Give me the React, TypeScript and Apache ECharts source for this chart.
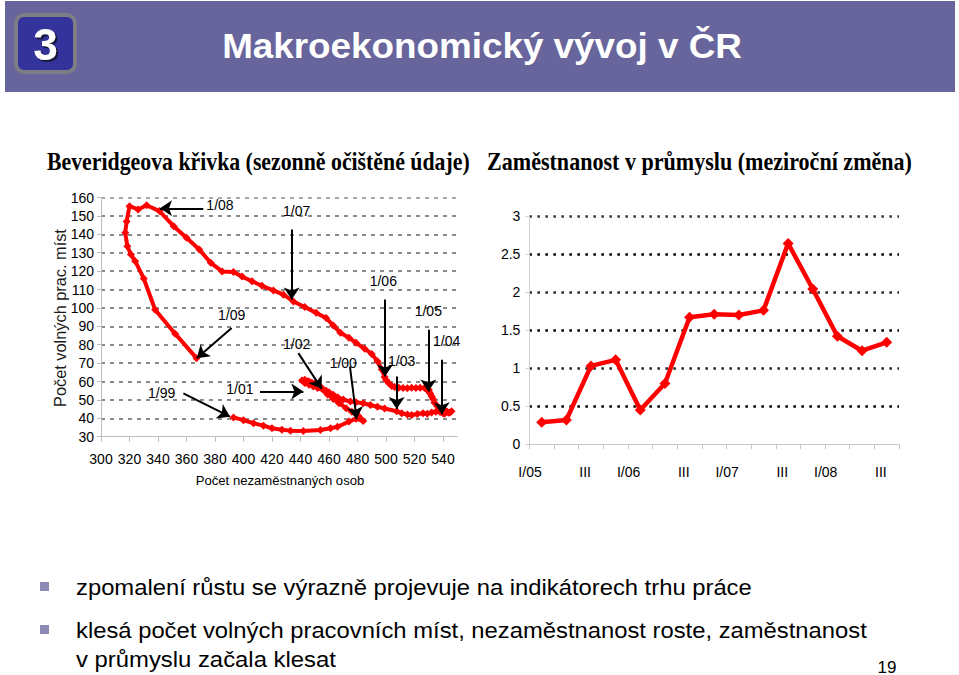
import React, { useEffect, useRef } from 'react';
import * as echarts from 'echarts';

// ---------- Beveridge curve (monthly, 1/99 – 1/09), thousands ----------
const unemployed = [
  393, 400, 407, 414, 420, 427, 433, 442, 454, 461, 466, 474,
  479, 484, 481, 476, 472, 467, 463, 459, 456, 452, 449, 446,
  443, 441, 443, 445, 444, 446, 448, 449, 450, 452, 453, 454,
  455, 458, 460, 463, 466, 470, 475, 479, 484, 489, 494, 499,
  507.5, 511, 515, 518, 522, 526, 529, 532, 535, 538, 542, 545,
  540, 543, 546, 544, 541, 538, 536, 534, 533, 532, 531, 530,
  530, 527, 524, 521, 518, 515, 512, 509, 506, 504, 502, 500,
  499, 497, 494, 490, 485, 479, 474, 468, 463, 458, 451, 443,
  435, 428, 421, 413, 406, 399, 393, 385, 377, 369, 360, 351,
  341, 332, 326, 320, 318, 317, 318.5, 321, 324, 330, 338, 352,
  367,
];
const vacancies = [
  40.5, 39, 37.3, 36, 34.6, 33.8, 33.3, 33.1, 33.6, 34.6, 35.4, 38.2,
  39.8, 38.5, 41, 43.5, 45.5, 48.2, 50.5, 53, 55.4, 56.5, 57.3, 58.3,
  59.2, 60.5, 61, 60.2, 59.5, 60, 59.3, 58.5, 58.8, 57.8, 57.2, 56.8,
  56.4, 55, 54.2, 52.8, 51.5, 50.2, 49.1, 48.7, 48.2, 47.2, 46.3, 45.3,
  43.8, 42.8, 42.1, 41.8, 42.3, 42.7, 42.5, 43.2, 43.6, 43.4, 43.8, 43.2,
  42.8, 43.5, 43.8, 43, 42.5, 44, 46.5, 48.5, 50.5, 52, 53.5, 54.5,
  55.5, 56.4, 56.6, 56.4, 56.6, 56.3, 56.5, 56.6, 57, 57.6, 59, 60.8,
  62.5, 66.5, 71, 75, 77.8, 81, 83.8, 86.5, 90.5, 94.5, 97.3, 100.5,
  103.5, 107.2, 109.5, 112, 114.5, 117, 119.5, 119.8, 124.5, 131.7, 138.1, 144.4,
  152.6, 155.8, 153.5, 155.3, 147, 140.8, 133.5, 129, 125.4, 116, 99, 86,
  72.7,
];

// Annotations of the Beveridge curve (data coordinates)
const annotationNames = ['1/99', '1/00', '1/01', '1/02', '1/03', '1/04', '1/05', '1/06', '1/07', '1/08', '1/09'];
const annotationTextAt = [
  [342.6, 53.6], [470, 70], [397.5, 55.8], [437.3, 80.4], [511, 70.9], [542.6, 81.8],
  [529.7, 98.1], [498.1, 114.5], [437.3, 152.6], [383.5, 155.9], [391.7, 95.9],
];
const arrowFrom = [
  [357.8, 53.6], [474.7, 68.1], [411.6, 54.5], [438.5, 75.4], [507.5, 62.7], [539.1, 71.8],
  [529.7, 88.1], [499.3, 104.5], [433.8, 142.6], [371.8, 154.1], [391.7, 89.1],
];
const arrowTo = [
  [390.5, 40.9], [479.4, 39.6], [442, 54.5], [454.9, 56], [507.5, 45.1], [539.1, 42.2],
  [529.7, 54.5], [499.3, 62.7], [433.8, 104.5], [341.4, 154.1], [367.2, 72.7],
];
const unemployedTicks = [300, 320, 340, 360, 380, 400, 420, 440, 460, 480, 500, 520, 540];

// ---------- Employment in industry (y/y change, %) ----------
const quarterLabels = ['I/05', 'II', 'III', 'IV', 'I/06', 'II', 'III', 'IV', 'I/07', 'II', 'III', 'IV', 'I/08', 'II', 'III'];
const employmentChange = [0.29, 0.32, 1.03, 1.11, 0.45, 0.8, 1.67, 1.71, 1.7, 1.76, 2.64, 2.04, 1.42, 1.23, 1.34];

// ---------- Slide texts ----------
const slideNumberBadge = '3';
const slideTitle = 'Makroekonomický vývoj v ČR';
const leftTitle = 'Beveridgeova křivka (sezonně očištěné údaje)';
const rightTitle = 'Zaměstnanost v průmyslu (meziroční změna)';
const leftYName = 'Počet volných prac. míst';
const leftXName = 'Počet nezaměstnaných osob';
const bulletLines = [
  'zpomalení růstu se výrazně projevuje na indikátorech trhu práce',
  'klesá počet volných pracovních míst, nezaměstnanost roste, zaměstnanost',
  'v průmyslu začala klesat',
];
const pageNumber = '19';

const FONT = 'Arial, "Liberation Sans", sans-serif';
const SERIF = '"Times New Roman", "Liberation Serif", serif';

function fitScale(text: string, font: string, width: number): number {
  try {
    const ctx = document.createElement('canvas').getContext('2d');
    if (!ctx) return 1;
    ctx.font = font;
    const w = ctx.measureText(text).width;
    return w > 0 ? width / w : 1;
  } catch (e) {
    return 1;
  }
}

function fittedText(
  text: string, x: number, y: number, size: number, weight: string, family: string,
  fill: string, align: string, width: number | null, extra: any = {}, extraStyle: any = {}
) {
  const fontStr = `${weight} ${size}px ${family}`;
  const sx = width ? fitScale(text, fontStr, width) : 1;
  return {
    type: 'text',
    x, y,
    scaleX: sx,
    silent: true,
    ...extra,
    style: {
      text,
      fill,
      fontSize: size,
      fontWeight: weight,
      fontFamily: family,
      align,
      verticalAlign: 'middle',
      ...extraStyle,
    },
  };
}

function buildOption() {
  const beveridge = unemployed.map((u, i) => [u, vacancies[i]]);
  const labelData = annotationNames.map((n, i) => ({ name: n, value: annotationTextAt[i] }));
  const arrows = arrowFrom.map((f, i) => [{ coord: f }, { coord: arrowTo[i] }]);

  const graphic: any[] = [
    { type: 'rect', silent: true, shape: { x: 5, y: 1, width: 950, height: 91 }, style: { fill: '#67659b' } },
    { type: 'rect', silent: true, shape: { x: 16, y: 15, width: 59, height: 57, r: 8 }, style: { fill: '#33339b', stroke: '#7d7d86', lineWidth: 4 } },
    fittedText(slideNumberBadge, 45.5, 44.5, 44, 'bold', FONT, '#ffffff', 'center', null, {}, {
      textShadowColor: '#15153a', textShadowOffsetX: 2, textShadowOffsetY: 2, textShadowBlur: 1,
    }),
    fittedText(slideTitle, 482, 46, 36, 'bold', FONT, '#ffffff', 'center', 520),
    fittedText(leftTitle, 47, 161, 26, 'bold', SERIF, '#000000', 'left', 423),
    fittedText(rightTitle, 487, 161, 26, 'bold', SERIF, '#000000', 'left', 425),
    fittedText(leftYName, 60, 318, 16, 'normal', FONT, '#1a1a1a', 'center', 178, { rotation: Math.PI / 2 }),
    fittedText(leftXName, 280, 481, 13, 'normal', FONT, '#000000', 'center', 169),
    { type: 'rect', silent: true, shape: { x: 40, y: 582, width: 9, height: 9 }, style: { fill: '#8b8bb6' } },
    { type: 'rect', silent: true, shape: { x: 40, y: 625, width: 9, height: 9 }, style: { fill: '#8b8bb6' } },
    fittedText(bulletLines[0], 76, 587, 22, 'normal', FONT, '#000000', 'left', 676),
    fittedText(bulletLines[1], 76, 630, 22, 'normal', FONT, '#000000', 'left', 791),
    fittedText(bulletLines[2], 76, 659, 22, 'normal', FONT, '#000000', 'left', 260),
    fittedText(pageNumber, 887, 667, 17, 'normal', FONT, '#000000', 'center', null),
  ];

  return {
    animation: false,
    backgroundColor: '#ffffff',
    textStyle: { fontFamily: FONT },
    grid: [
      { left: 101, top: 197.5, width: 356.25, height: 239.2, outerBoundsMode: 'none', containLabel: false },
      { left: 529.4, top: 216, width: 369.6, height: 228.3, outerBoundsMode: 'none', containLabel: false },
    ],
    xAxis: [
      {
        type: 'value', gridIndex: 0, min: 300, max: 550, interval: 20,
        axisLine: { show: true, lineStyle: { color: '#bdbdbd', width: 1 } },
        axisTick: { show: true, inside: false, length: 5, customValues: unemployedTicks, lineStyle: { color: '#bdbdbd' } },
        axisLabel: { show: true, margin: 15, fontSize: 14, color: '#000', customValues: unemployedTicks, fontFamily: FONT },
        splitLine: { show: false },
      },
      {
        type: 'category', gridIndex: 1, data: quarterLabels, boundaryGap: true,
        axisLine: { show: true, lineStyle: { color: '#c8c8c8', width: 1 } },
        axisTick: { show: true, inside: false, length: 5, alignWithLabel: false, interval: 0, lineStyle: { color: '#c8c8c8' } },
        axisLabel: { show: true, interval: 1, margin: 21, fontSize: 14, color: '#000', fontFamily: FONT, align: 'right' },
        splitLine: { show: false },
      },
    ],
    yAxis: [
      {
        type: 'value', gridIndex: 0, min: 30, max: 160, interval: 10,
        axisLine: { show: true, lineStyle: { color: '#bdbdbd', width: 1 } },
        axisTick: { show: true, inside: false, length: 4, lineStyle: { color: '#bdbdbd' } },
        axisLabel: { show: true, margin: 7, fontSize: 14, color: '#000', fontFamily: FONT },
        splitLine: {
          show: true,
          lineStyle: {
            color: ['rgba(0,0,0,0)', '#8a8a8a', '#8a8a8a', '#8a8a8a', '#8a8a8a', '#8a8a8a', '#8a8a8a', '#8a8a8a', '#8a8a8a', '#8a8a8a', '#8a8a8a', '#8a8a8a', '#8a8a8a', '#a8a8a8'],
            width: 2, type: [4, 5],
          },
        },
      },
      {
        type: 'value', gridIndex: 1, min: 0, max: 3, interval: 0.5,
        axisLine: { show: true, lineStyle: { color: '#d0d0d0', width: 1 } },
        axisTick: { show: true, inside: false, length: 4, lineStyle: { color: '#d0d0d0' } },
        axisLabel: { show: true, margin: 9, fontSize: 14, color: '#000', fontFamily: FONT },
        splitLine: {
          show: true,
          lineStyle: {
            color: ['rgba(0,0,0,0)', '#000', '#222', '#000', '#222', '#000', '#333'],
            width: 2.5, type: [2.5, 5.5],
          },
        },
      },
    ],
    series: [
      {
        type: 'line', name: 'Beveridge', xAxisIndex: 0, yAxisIndex: 0,
        data: beveridge,
        showSymbol: true, showAllSymbol: true,
        symbol: 'diamond', symbolSize: 8,
        lineStyle: { color: '#ff0000', width: 4, cap: 'round', join: 'round' },
        itemStyle: { color: '#ff0000' },
        emphasis: { disabled: true },
        silent: true, z: 3,
      },
      {
        type: 'scatter', name: 'labels', xAxisIndex: 0, yAxisIndex: 0,
        data: labelData,
        symbolSize: 1,
        itemStyle: { color: '#ffffff', opacity: 0 },
        label: {
          show: true, position: 'inside', formatter: '{b}',
          fontSize: 14, color: '#000000', fontFamily: FONT,
          textBorderWidth: 0, textShadowBlur: 0, opacity: 1,
        },
        labelLayout: { hideOverlap: false },
        markLine: {
          silent: true,
          symbol: ['none', 'arrow'],
          symbolSize: 12,
          lineStyle: { color: '#000', width: 2, type: 'solid', opacity: 1 },
          label: { show: false },
          emphasis: { disabled: true },
          data: arrows,
        },
        emphasis: { disabled: true },
        silent: true, z: 4,
      },
      {
        type: 'line', name: 'Zaměstnanost', xAxisIndex: 1, yAxisIndex: 1,
        data: employmentChange,
        showSymbol: true,
        symbol: 'diamond', symbolSize: 11,
        lineStyle: { color: '#ff0000', width: 4.5, join: 'round' },
        itemStyle: { color: '#ff0000' },
        emphasis: { disabled: true },
        silent: true, z: 3,
      },
    ],
    graphic,
  };
}

export default function App() {
  const ref = useRef<HTMLDivElement>(null);
  useEffect(() => {
    if (!ref.current) return;
    const chart = echarts.init(ref.current, null, { renderer: 'svg' });
    chart.setOption(buildOption() as any);
    return () => chart.dispose();
  }, []);
  return (
    <div
      ref={ref}
      style={{ position: 'absolute', left: 0, top: 0, width: 959, height: 675, background: '#fff' }}
    />
  );
}
